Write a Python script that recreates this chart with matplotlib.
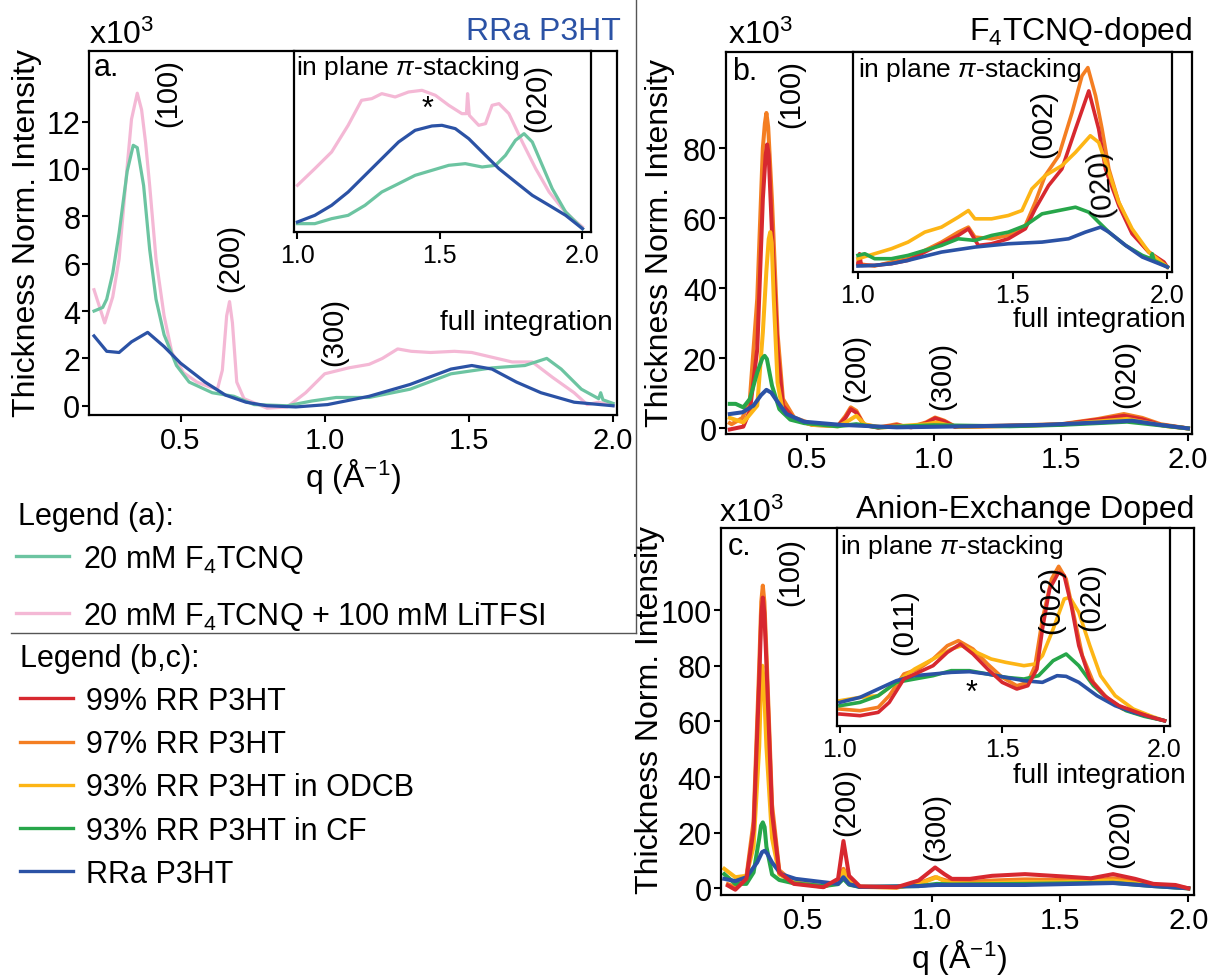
import numpy as np
import matplotlib
matplotlib.use("Agg")
import matplotlib.pyplot as plt
from matplotlib.lines import Line2D

plt.rcParams['font.family'] = ['Liberation Sans', 'DejaVu Sans']
plt.rcParams['mathtext.fontset'] = 'custom'
plt.rcParams['mathtext.rm'] = 'Liberation Sans'
plt.rcParams['mathtext.it'] = 'Liberation Sans:italic'
plt.rcParams['mathtext.bf'] = 'Liberation Sans:bold'

c_f4 = '#6cc4a1'
c_li = '#f4b8d5'
c_99 = '#d7282f'
c_97 = '#f47e22'
c_odcb = '#fdb515'
c_cf = '#27a64a'
c_rra = '#2b52a5'

# ---- (a) RRa P3HT, full integration (x10^3) ----
a_q_li = [0.20, 0.237, 0.265, 0.287, 0.315, 0.33, 0.35, 0.365, 0.379, 0.393, 0.415, 0.443, 0.47,
          0.51, 0.557, 0.60, 0.628, 0.645, 0.66, 0.67, 0.68, 0.695, 0.72, 0.80, 0.87, 0.934, 1.00,
          1.083, 1.154, 1.20, 1.253, 1.30, 1.367, 1.45, 1.51, 1.58, 1.65, 1.72, 1.79, 1.865, 1.91,
          1.95, 2.00]
a_i_li = [4.9, 3.5, 4.6, 6.2, 10.1, 12.1, 13.2, 12.5, 11.1, 9.3, 6.2, 3.8, 2.25,
          1.4, 1.0, 0.8, 0.7, 1.5, 3.8, 4.4, 3.5, 1.0, 0.3, -0.1, -0.05, 0.55, 1.35,
          1.6, 1.75, 2.0, 2.4, 2.3, 2.25, 2.3, 2.25, 2.05, 1.85, 1.85, 1.2, 0.55, 0.05,
          0.15, 0.0]
a_q_f4 = [0.20, 0.23, 0.244, 0.265, 0.287, 0.315, 0.336, 0.35, 0.372, 0.393, 0.415, 0.443, 0.486,
          0.53, 0.61, 0.685, 0.755, 0.87, 0.955, 1.04, 1.154, 1.296, 1.438, 1.58, 1.694, 1.77, 1.82,
          1.89, 1.95, 1.957, 1.965, 2.0]
a_i_f4 = [4.0, 4.15, 4.5, 5.6, 7.3, 9.9, 11.0, 10.9, 9.3, 6.6, 4.5, 3.0, 1.7,
          1.0, 0.55, 0.4, 0.05, 0.0, 0.2, 0.35, 0.35, 0.7, 1.35, 1.6, 1.7, 2.0, 1.55,
          0.7, 0.3, 0.55, 0.25, 0.1]
a_q_rra = [0.20, 0.244, 0.287, 0.33, 0.386, 0.443, 0.50, 0.585, 0.656, 0.727, 0.80, 0.90, 1.01,
           1.154, 1.296, 1.438, 1.51, 1.58, 1.665, 1.75, 1.865, 2.0]
a_i_rra = [2.95, 2.3, 2.25, 2.7, 3.1, 2.5, 1.8, 1.0, 0.45, 0.15, 0.0, -0.05, 0.05,
           0.4, 0.9, 1.55, 1.7, 1.55, 1.0, 0.55, 0.15, 0.0]

# (a) inset, in plane pi-stacking (a.u.)
ai_q_li = [1.0, 1.061, 1.12, 1.178, 1.225, 1.261, 1.296, 1.343, 1.39, 1.437, 1.484, 1.531, 1.577,
           1.593, 1.597, 1.603, 1.636, 1.66, 1.683, 1.707, 1.742, 1.789, 1.836, 1.883, 1.93, 1.965, 2.0]
ai_i_li = [1.3, 1.8, 2.3, 3.1, 3.85, 3.9, 4.05, 3.95, 4.1, 4.15, 4.0, 3.7, 3.45,
           3.45, 4.05, 3.4, 3.1, 3.15, 3.7, 3.75, 3.45, 2.6, 1.8, 1.1, 0.6, 0.3, 0.05]
ai_q_rra = [1.0, 1.061, 1.12, 1.178, 1.237, 1.296, 1.355, 1.413, 1.472, 1.507, 1.554, 1.601, 1.648,
            1.707, 1.765, 1.824, 1.883, 1.941, 2.0]
ai_i_rra = [0.2, 0.4, 0.7, 1.1, 1.6, 2.1, 2.6, 2.95, 3.08, 3.1, 3.0, 2.7, 2.3,
            1.8, 1.4, 1.0, 0.7, 0.4, 0.0]
ai_q_f4 = [1.0, 1.061, 1.12, 1.178, 1.237, 1.296, 1.355, 1.413, 1.472, 1.531, 1.589, 1.648, 1.695,
           1.73, 1.765, 1.795, 1.824, 1.859, 1.894, 1.941, 2.0]
ai_i_f4 = [0.15, 0.15, 0.3, 0.4, 0.7, 1.1, 1.35, 1.6, 1.75, 1.9, 1.95, 1.85, 1.9,
           2.2, 2.65, 2.85, 2.6, 1.9, 1.2, 0.5, 0.0]

# ---- (b) F4TCNQ-doped, full integration (x10^3) ----
b_q_97 = [0.197, 0.204, 0.247, 0.276, 0.305, 0.327, 0.335, 0.341, 0.348, 0.363, 0.385, 0.406, 0.45,
          0.522, 0.623, 0.652, 0.673, 0.695, 0.724, 0.781, 0.825, 0.854, 0.882, 0.911, 0.969, 1.005,
          1.041, 1.084, 1.286, 1.502, 1.647, 1.748, 1.82, 1.892, 2.0]
b_i_97 = [1.5, 1.2, 3.0, 8.4, 37, 80, 87, 90, 86, 65, 27, 8.4, 3.1,
          1.2, 0.8, 3.5, 6.0, 5.0, 1.2, 0.3, 0.8, 1.2, 0.6, 0.4, 1.7, 3.1,
          2.2, 0.5, 0.8, 1.2, 2.7, 4.1, 3.0, 1.2, 0.0]
b_q_99 = [0.197, 0.25, 0.276, 0.305, 0.327, 0.338, 0.344, 0.35, 0.363, 0.385, 0.406, 0.45, 0.522,
          0.623, 0.652, 0.673, 0.695, 0.724, 0.781, 0.854, 0.911, 0.969, 1.005, 1.041, 1.084, 1.286,
          1.502, 1.647, 1.748, 1.82, 1.892, 2.0]
b_i_99 = [-0.3, 0.5, 5, 22.6, 65.5, 78, 81, 78, 56, 22.6, 6.5, 2.7, 1.0,
          0.7, 3.0, 5.5, 4.5, 1.0, 0.2, 0.9, 0.3, 1.5, 2.9, 2.0, 0.4, 0.7,
          1.1, 2.5, 3.6, 2.6, 1.0, 0.0]
b_q_odcb = [0.197, 0.25, 0.305, 0.327, 0.341, 0.35, 0.356, 0.362, 0.37, 0.385, 0.406, 0.45, 0.522,
            0.623, 0.66, 0.695, 0.73, 0.80, 0.97, 1.01, 1.05, 1.10, 1.30, 1.50, 1.65, 1.76, 1.85,
            1.92, 2.0]
b_i_odcb = [3.0, 1.7, 6.5, 27.4, 45, 54, 56, 53, 37, 13, 4.6, 2.5, 1.0,
            0.6, 2.0, 3.6, 1.0, 0.3, 1.2, 1.7, 1.0, 0.4, 0.7, 1.1, 2.0, 2.7, 1.5,
            0.6, 0.0]
b_q_cf = [0.197, 0.22, 0.25, 0.276, 0.305, 0.325, 0.334, 0.343, 0.363, 0.392, 0.435, 0.49, 0.62,
          0.695, 0.78, 1.00, 1.30, 1.50, 1.76, 1.85, 2.0]
b_i_cf = [7.0, 7.0, 6.0, 8.4, 16, 20.0, 20.7, 19.8, 12.2, 5.5, 2.5, 1.5, 0.6,
          1.2, 0.3, 0.9, 0.6, 1.0, 1.9, 1.2, 0.0]
b_q_rra = [0.197, 0.247, 0.29, 0.32, 0.341, 0.36, 0.377, 0.42, 0.49, 0.636, 0.854, 1.14, 1.43,
           1.65, 1.78, 1.89, 2.0]
b_i_rra = [4.1, 4.6, 6.5, 9.5, 11, 10.2, 8.4, 4.1, 1.9, 1.0, 0.3, 0.6, 1.0,
           1.7, 2.2, 1.0, 0.0]

# (b) inset
bi_q_97 = [1.0, 1.054, 1.108, 1.162, 1.216, 1.27, 1.324, 1.357, 1.378, 1.432, 1.486, 1.541, 1.573,
           1.605, 1.649, 1.692, 1.724, 1.743, 1.768, 1.789, 1.811, 1.843, 1.886, 1.93, 1.973, 2.0]
bi_i_97 = [0.1, 0.03, 0.15, 0.25, 0.5, 0.75, 1.05, 1.2, 0.9, 0.85, 0.95, 1.25, 1.95,
           2.75, 3.35, 4.65, 5.75, 6.0, 5.15, 4.15, 2.95, 1.95, 1.05, 0.55, 0.15, 0.0]
bi_q_99 = [1.0, 1.005, 1.011, 1.054, 1.108, 1.162, 1.216, 1.27, 1.324, 1.357, 1.389, 1.432, 1.486,
           1.541, 1.573, 1.616, 1.659, 1.703, 1.746, 1.778, 1.8, 1.843, 1.886, 1.94, 1.989, 2.0]
bi_i_99 = [0.1, 0.4, 0.05, 0.05, 0.1, 0.2, 0.45, 0.7, 0.95, 1.15, 0.65, 0.7, 0.85,
           1.15, 1.75, 2.45, 2.95, 4.15, 5.3, 4.15, 2.95, 1.85, 1.0, 0.45, 0.15, 0.0]
bi_q_odcb = [1.0, 1.054, 1.108, 1.162, 1.216, 1.27, 1.324, 1.357, 1.378, 1.432, 1.486, 1.53, 1.562,
             1.605, 1.659, 1.703, 1.751, 1.778, 1.811, 1.843, 1.886, 1.94, 2.0]
bi_i_odcb = [0.25, 0.4, 0.55, 0.75, 1.05, 1.2, 1.5, 1.7, 1.45, 1.45, 1.55, 1.7, 2.35,
             2.75, 3.05, 3.45, 3.95, 3.75, 2.85, 1.95, 1.15, 0.45, 0.0]
bi_q_cf = [1.0, 1.022, 1.054, 1.108, 1.162, 1.216, 1.27, 1.324, 1.378, 1.432, 1.486, 1.541, 1.595,
           1.649, 1.703, 1.746, 1.778, 1.811, 1.865, 1.919, 1.946, 1.951, 1.957, 2.0]
bi_i_cf = [0.35, 0.4, 0.25, 0.25, 0.35, 0.5, 0.65, 0.85, 0.8, 0.95, 1.05, 1.25, 1.6,
           1.7, 1.8, 1.65, 1.35, 1.05, 0.65, 0.35, 0.25, 0.4, 0.2, 0.0]
bi_q_rra = [1.0, 1.054, 1.108, 1.162, 1.27, 1.378, 1.486, 1.595, 1.681, 1.735, 1.784, 1.811, 1.865,
            1.919, 2.0]
bi_i_rra = [0.03, 0.05, 0.1, 0.2, 0.45, 0.6, 0.7, 0.75, 0.85, 1.05, 1.2, 1.05, 0.65,
            0.3, 0.0]

# ---- (c) anion-exchange doped, full integration (x10^3) ----
c_q_rr = [0.207, 0.236, 0.279, 0.307, 0.329, 0.337, 0.343, 0.349, 0.357, 0.379, 0.407, 0.464, 0.579,
          0.636, 0.657, 0.679, 0.721, 0.864, 0.95, 1.014, 1.05, 1.079, 1.15, 1.236, 1.364, 1.507,
          1.621, 1.707, 1.793, 1.864, 1.95, 2.0]
c_i_99 = [1.0, -0.5, 3.4, 21, 75, 98, 104.5, 99, 81, 27, 5.7, 1.6, 0.4,
          3.4, 17, 4.5, 0.7, 0.4, 2.8, 7.5, 5.1, 3.4, 3.4, 4.5, 5.1, 4.3,
          3.6, 5.1, 3.4, 1.6, 1.2, 0.0]
c_i_97 = [1.5, 0.5, 4, 24, 80, 103, 108.8, 103, 85, 30, 6.5, 2.0, 0.5,
          2.5, 7, 3, 0.5, 0.3, 1.8, 4.0, 3.0, 2.3, 2.3, 2.8, 3.2, 3.0,
          2.6, 3.6, 2.5, 1.2, 0.8, 0.0]
c_q_odcb = [0.193, 0.236, 0.279, 0.307, 0.329, 0.336, 0.341, 0.347, 0.357, 0.379, 0.407, 0.464,
            0.579, 0.636, 0.657, 0.679, 0.721, 0.864, 0.95, 1.021, 1.05, 1.079, 1.15, 1.364, 1.507,
            1.707, 1.864, 2.0]
c_i_odcb = [7.0, 4.0, 4.5, 15, 51, 74, 80, 74, 51, 18, 5, 2.2,
            0.8, 2.0, 6.3, 2.5, 0.6, 0.3, 1.5, 4.0, 2.5, 1.8, 1.6, 2.3, 2.2,
            2.8, 1.0, 0.0]
c_q_cf = [0.193, 0.236, 0.279, 0.307, 0.329, 0.336, 0.343, 0.35, 0.357, 0.379, 0.407, 0.464, 0.579,
          0.636, 0.657, 0.679, 0.721, 0.95, 1.021, 1.079, 1.364, 1.707, 1.864, 2.0]
c_i_cf = [5.1, 1.6, 1.6, 5.7, 18, 22.5, 23.7, 22, 15, 5, 3.0, 1.8, 0.8,
          1.5, 3.4, 1.3, 0.5, 0.8, 1.6, 1.4, 1.6, 2.0, 0.8, 0.0]
c_q_rra = [0.193, 0.236, 0.279, 0.321, 0.34, 0.35, 0.36, 0.379, 0.414, 0.471, 0.579, 0.636, 0.657,
           0.679, 0.721, 0.95, 1.021, 1.364, 1.707, 1.864, 2.0]
c_i_rra = [3.4, 2.6, 4.0, 9.3, 13.0, 13.5, 12.5, 9.3, 5.1, 3.4, 2.2, 1.6, 4.0,
           1.5, 0.5, 0.8, 1.2, 1.2, 1.9, 0.8, 0.0]

# (c) inset
ci_q_99 = [1.0, 1.062, 1.118, 1.152, 1.197, 1.242, 1.287, 1.331, 1.371, 1.41, 1.455, 1.5, 1.545,
           1.579, 1.607, 1.624, 1.646, 1.674, 1.691, 1.713, 1.736, 1.77, 1.815, 1.86, 1.916, 1.961, 2.0]
ci_i_99 = [0.2, 0.15, 0.25, 0.55, 1.25, 1.45, 1.65, 2.05, 2.3, 2.0, 1.55, 1.15, 0.95,
           1.05, 1.55, 2.75, 3.95, 4.45, 4.35, 3.45, 2.25, 1.25, 0.75, 0.45, 0.25, 0.1, 0.0]
ci_q_97 = [1.0, 1.062, 1.118, 1.152, 1.197, 1.242, 1.287, 1.331, 1.365, 1.41, 1.455, 1.5, 1.545,
           1.579, 1.601, 1.624, 1.652, 1.674, 1.697, 1.719, 1.747, 1.781, 1.826, 1.871, 1.938, 2.0]
ci_i_97 = [0.35, 0.3, 0.4, 0.75, 1.4, 1.55, 1.85, 2.25, 2.4, 2.15, 1.7, 1.3, 1.05,
           1.15, 1.65, 3.05, 4.25, 4.63, 4.25, 3.25, 1.95, 1.15, 0.65, 0.35, 0.15, 0.0]
ci_q_odcb = [1.0, 1.062, 1.118, 1.174, 1.23, 1.287, 1.343, 1.376, 1.421, 1.466, 1.511, 1.567, 1.601,
             1.624, 1.657, 1.691, 1.708, 1.736, 1.77, 1.803, 1.848, 1.904, 1.961, 2.0]
ci_i_odcb = [0.6, 0.7, 0.75, 1.15, 1.55, 1.85, 2.15, 2.25, 2.05, 1.85, 1.75, 1.65, 1.7,
             1.95, 2.75, 3.65, 3.7, 3.25, 2.25, 1.35, 0.75, 0.35, 0.13, 0.0]
ci_q_cf = [1.0, 1.062, 1.118, 1.174, 1.23, 1.287, 1.343, 1.399, 1.455, 1.511, 1.567, 1.612, 1.657,
           1.697, 1.736, 1.781, 1.826, 1.882, 1.938, 2.0]
ci_i_cf = [0.45, 0.55, 0.75, 1.15, 1.25, 1.35, 1.5, 1.5, 1.4, 1.3, 1.25, 1.35, 1.8,
           2.0, 1.65, 1.05, 0.65, 0.3, 0.13, 0.0]
ci_q_rra = [1.0, 1.062, 1.118, 1.174, 1.23, 1.287, 1.343, 1.399, 1.455, 1.511, 1.567, 1.624, 1.669,
            1.697, 1.736, 1.792, 1.848, 1.904, 2.0]
ci_i_rra = [0.55, 0.7, 0.95, 1.2, 1.35, 1.4, 1.45, 1.47, 1.4, 1.3, 1.2, 1.15, 1.35,
            1.33, 1.15, 0.75, 0.45, 0.25, 0.0]

main_ticks = [0.5, 1.0, 1.5, 2.0]
inset_ticks = [1.0, 1.5, 2.0]
a_yticks = [0, 2, 4, 6, 8, 10, 12]
b_yticks = [0, 20, 40, 60, 80]
c_yticks = [0, 20, 40, 60, 80, 100]

W, H = 1212, 978
fig = plt.figure(figsize=(W / 100, H / 100), dpi=100)


def box(l, r, t, b):
    return [l / W, 1 - b / H, (r - l) / W, (b - t) / H]


def txt(x, y, s, **kw):
    kw.setdefault('ha', 'center')
    kw.setdefault('va', 'center')
    fig.text(x / W, 1 - y / H, s, **kw)


def style(ax, xt, yt, xsize=21, ysize=22):
    for sp in ax.spines.values():
        sp.set_linewidth(1.6)
    ax.set_xticks(xt)
    ax.set_xticklabels(['%.1f' % v for v in xt])
    ax.set_yticks(yt)
    ax.tick_params(direction='out', length=5, width=1.5, pad=3)
    ax.tick_params(axis='x', labelsize=xsize)
    ax.tick_params(axis='y', labelsize=ysize, pad=1.5)


# panel a
ax_a = fig.add_axes(box(89.4, 617.4, 52.3, 416))
ax_a.plot(a_q_li, a_i_li, color=c_li, lw=2.3)
ax_a.plot(a_q_f4, a_i_f4, color=c_f4, lw=2.3)
ax_a.plot(a_q_rra, a_i_rra, color=c_rra, lw=2.3)
ax_a.set_xlim(0.184, 2.015)
ax_a.set_ylim(-0.39, 14.97)
style(ax_a, main_ticks, a_yticks)

ins_a = fig.add_axes(box(294, 591, 52.3, 233))
ins_a.plot(ai_q_li, ai_i_li, color=c_li, lw=2.3)
ins_a.plot(ai_q_f4, ai_i_f4, color=c_f4, lw=2.3)
ins_a.plot(ai_q_rra, ai_i_rra, color=c_rra, lw=2.3)
ins_a.set_xlim(0.988, 2.03)
ins_a.set_ylim(-0.1, 5.32)
style(ins_a, inset_ticks, [], xsize=18)

# panel b
ax_b = fig.add_axes(box(726, 1192, 53, 435))
ax_b.plot(b_q_97, b_i_97, color=c_97, lw=2.9)
ax_b.plot(b_q_99, b_i_99, color=c_99, lw=2.9)
ax_b.plot(b_q_odcb, b_i_odcb, color=c_odcb, lw=2.9)
ax_b.plot(b_q_cf, b_i_cf, color=c_cf, lw=2.9)
ax_b.plot(b_q_rra, b_i_rra, color=c_rra, lw=2.9)
ax_b.set_xlim(0.182, 2.016)
ax_b.set_ylim(-1.6, 107.4)
style(ax_b, main_ticks, b_yticks)

ins_b = fig.add_axes(box(852.7, 1171.7, 53, 273))
ins_b.plot(bi_q_97, bi_i_97, color=c_97, lw=2.6)
ins_b.plot(bi_q_99, bi_i_99, color=c_99, lw=2.6)
ins_b.plot(bi_q_odcb, bi_i_odcb, color=c_odcb, lw=2.6)
ins_b.plot(bi_q_cf, bi_i_cf, color=c_cf, lw=2.6)
ins_b.plot(bi_q_rra, bi_i_rra, color=c_rra, lw=2.6)
ins_b.set_xlim(0.983, 2.014)
ins_b.set_ylim(-0.15, 6.47)
style(ins_b, inset_ticks, [], xsize=18)

# panel c
ax_c = fig.add_axes(box(720.7, 1193.7, 529.3, 896))
ax_c.plot(c_q_rr, c_i_97, color=c_97, lw=2.9)
ax_c.plot(c_q_odcb, c_i_odcb, color=c_odcb, lw=2.9)
ax_c.plot(c_q_cf, c_i_cf, color=c_cf, lw=2.9)
ax_c.plot(c_q_rra, c_i_rra, color=c_rra, lw=2.9)
ax_c.plot(c_q_rr, c_i_99, color=c_99, lw=2.9)
ax_c.set_xlim(0.179, 2.021)
ax_c.set_ylim(-2.4, 129.4)
style(ax_c, main_ticks, c_yticks)

ins_c = fig.add_axes(box(837, 1170, 529.3, 726.7))
ins_c.plot(ci_q_97, ci_i_97, color=c_97, lw=2.6)
ins_c.plot(ci_q_odcb, ci_i_odcb, color=c_odcb, lw=2.6)
ins_c.plot(ci_q_cf, ci_i_cf, color=c_cf, lw=2.6)
ins_c.plot(ci_q_rra, ci_i_rra, color=c_rra, lw=2.6)
ins_c.plot(ci_q_99, ci_i_99, color=c_99, lw=2.6)
ins_c.set_xlim(0.991, 2.017)
ins_c.set_ylim(-0.15, 5.77)
style(ins_c, inset_ticks, [], xsize=18)

# axis labels and annotations
ylab = 'Thickness Norm. Intensity'
txt(27, 233, ylab, rotation=90, fontsize=23)
txt(660, 243, ylab, rotation=90, fontsize=23)
txt(650, 710, ylab, rotation=90, fontsize=23)
txt(353, 477, 'q (Å$^{-1}$)', fontsize=23)
txt(959, 958, 'q (Å$^{-1}$)', fontsize=23)

txt(89, 35, 'x10$^{3}$', ha='left', fontsize=23)
txt(728, 35, 'x10$^{3}$', ha='left', fontsize=23)
txt(719, 513, 'x10$^{3}$', ha='left', fontsize=23)
txt(621, 32, 'RRa P3HT', ha='right', fontsize=23, color=c_rra)
txt(1192, 32, 'F$_4$TCNQ-doped', ha='right', fontsize=23)
txt(1194, 510, 'Anion-Exchange Doped', ha='right', fontsize=23)

txt(94, 68, 'a.', ha='left', fontsize=22)
txt(732, 72, 'b.', ha='left', fontsize=22)
txt(728, 547, 'c.', ha='left', fontsize=22)

pi_lab = r'in plane $\pi$-stacking'
txt(296, 68, pi_lab, ha='left', fontsize=19)
txt(858, 70, pi_lab, ha='left', fontsize=19)
txt(840, 547, pi_lab, ha='left', fontsize=19)
txt(613, 323, 'full integration', ha='right', fontsize=20)
txt(1186, 320, 'full integration', ha='right', fontsize=20)
txt(1186, 776, 'full integration', ha='right', fontsize=20)

peak_labels = [
    (168, 93, '(100)'), (230, 258, '(200)'), (334, 332, '(300)'), (537, 98, '(020)'),
    (791, 94, '(100)'), (856, 368, '(200)'), (942, 376, '(300)'), (1126, 374, '(020)'),
    (1043, 124, '(002)'),
    (790, 572, '(100)'), (846, 802, '(200)'), (936, 827, '(300)'), (1120, 834, '(020)'),
    (904, 622, '(011)'), (1051, 600, '(002)'), (1091, 597, '(020)'),
]
for x, y, s in peak_labels:
    txt(x, y, s, rotation=90, fontsize=21)
txt(1100, 183, '(020)', rotation=95, fontsize=21)
txt(427, 110, '*', fontsize=22)
txt(972, 694, '*', fontsize=22)

# separators around the panel (a) legend
fig.add_artist(Line2D([636 / W, 636 / W], [1.0, 1 - 634 / H], color='#555555', lw=1))
fig.add_artist(Line2D([11 / W, 636 / W], [1 - 634 / H, 1 - 634 / H], color='#555555', lw=1))

# legends
txt(18, 517, 'Legend (a):', ha='left', fontsize=22)
ha = [Line2D([], [], color=c_f4, lw=2.4), Line2D([], [], color=c_li, lw=2.4)]
leg_a = fig.legend(ha, ['20 mM F$_4$TCNQ', '20 mM F$_4$TCNQ + 100 mM LiTFSI'],
                   loc='upper left', bbox_to_anchor=(16 / W, 1 - 544 / H),
                   frameon=False, fontsize=22, handlelength=1.75,
                   handletextpad=0.45, labelspacing=0.78, borderpad=0, borderaxespad=0)
hb = [Line2D([], [], color=c, lw=2.4) for c in [c_99, c_97, c_odcb, c_cf, c_rra]]
leg_b = fig.legend(hb, ['99% RR P3HT', '97% RR P3HT', '93% RR P3HT in ODCB',
                        '93% RR P3HT in CF', 'RRa P3HT'],
                   title='Legend (b,c):', loc='upper left', bbox_to_anchor=(20 / W, 1 - 644 / H),
                   frameon=False, fontsize=22, title_fontsize=22, handlelength=1.75,
                   handletextpad=0.4, labelspacing=0.43, borderpad=0, borderaxespad=0,
                   alignment='left')

fig.savefig('out.png', dpi=100)
